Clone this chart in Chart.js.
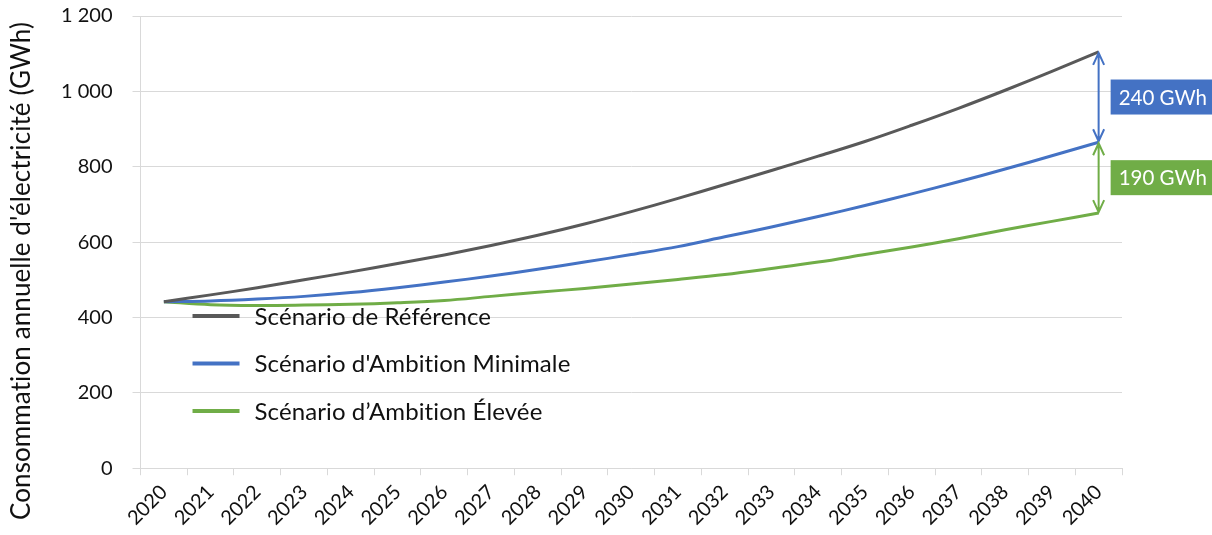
<!DOCTYPE html>
<html lang="fr">
<head>
<meta charset="utf-8">
<script src="https://cdn.jsdelivr.net/npm/chart.js@4/dist/chart.umd.min.js"></script>
<style>
  html, body { margin: 0; padding: 0; background: #fff; }
  #wrap { width: 1212px; height: 535px; position: relative; }
</style>
</head>
<body>
<div id="wrap"><canvas id="chart"></canvas></div>
<script>
// Données (GWh)
const years = ['2020', '2021', '2022', '2023', '2024', '2025', '2026', '2027', '2028', '2029', '2030',
               '2031', '2032', '2033', '2034', '2035', '2036', '2037', '2038', '2039', '2040'];
const scenarioReference = [442, 460, 479, 500, 521, 543, 566, 591, 618, 648, 681,
                           716, 753, 790, 828, 867, 910, 955, 1003, 1053, 1105];
const scenarioMinimale = [442, 444, 449, 456, 466, 479, 494, 510, 528, 547, 567,
                          588, 614, 640, 668, 697, 728, 760, 794, 829, 865];
const scenarioElevee = [442, 434, 432, 433, 435, 439, 445, 456, 467, 477, 489,
                        501, 514, 530, 547, 567, 587, 609, 633, 655, 677];
const seriesNames = ['Scénario de Référence', "Scénario d'Ambition Minimale", 'Scénario d’Ambition Élevée'];
const gapLabels = ['240 GWh', '190 GWh'];
const yTitle = "Consommation annuelle d'électricité (GWh)";

const colors = ['#595959', '#4472C4', '#70AD47'];
const textColor = '#111111';
const gridColor = '#D9D9D9';

Chart.defaults.font.family = 'Lato';

// titre de l'axe Y (centré sur toute la hauteur, comme dans Excel)
const yAxisTitle = {
    id: 'yAxisTitle',
    afterDraw(chart) {
        const ctx = chart.ctx;
        ctx.save();
        ctx.translate(22, 271);
        ctx.rotate(-Math.PI / 2);
        ctx.font = '26px Lato';
        ctx.letterSpacing = '0.1px'; // pas de ligature "ti"
        ctx.fillStyle = textColor;
        ctx.textAlign = 'center';
        ctx.textBaseline = 'middle';
        ctx.fillText(yTitle, 0, 0);
        ctx.restore();
    }
};

// legende dessinee dans la zone du graphique
const insideLegend = {
    id: 'insideLegend',
    afterDatasetsDraw(chart) {
        const ctx = chart.ctx;
        const area = chart.chartArea;
        ctx.save();
        ctx.font = '24px Lato';
        ctx.letterSpacing = '0.1px';
        ctx.textBaseline = 'middle';
        ctx.textAlign = 'left';
        chart.data.datasets.forEach((ds, i) => {
            const y = area.top + 300 + i * 47.5;
            const x = area.left + 52;
            ctx.strokeStyle = ds.borderColor;
            ctx.lineWidth = 4;
            ctx.beginPath();
            ctx.moveTo(x, y);
            ctx.lineTo(x + 47, y);
            ctx.stroke();
            ctx.fillStyle = textColor;
            ctx.fillText(ds.label, x + 62, y + 1);
        });
        ctx.restore();
    }
};

// fleches d'ecart en 2040 + etiquettes
const gapMarkers = {
    id: 'gapMarkers',
    afterDatasetsDraw(chart) {
        const ctx = chart.ctx;
        const xs = chart.scales.x, ys = chart.scales.y;
        const last = years.length - 1;
        const x = xs.getPixelForValue(last);
        const pairs = [[scenarioReference, scenarioMinimale, 1], [scenarioMinimale, scenarioElevee, 2]];
        ctx.save();
        pairs.forEach(([hi, lo, c], i) => {
            const y1 = ys.getPixelForValue(hi[last]) + 1;
            const y2 = ys.getPixelForValue(lo[last]) - 1;
            ctx.strokeStyle = colors[c];
            ctx.lineWidth = 2;
            ctx.beginPath();
            ctx.moveTo(x, y1);
            ctx.lineTo(x, y2);
            ctx.moveTo(x - 5.5, y1 + 12);
            ctx.lineTo(x, y1);
            ctx.lineTo(x + 5.5, y1 + 12);
            ctx.moveTo(x - 5.5, y2 - 12);
            ctx.lineTo(x, y2);
            ctx.lineTo(x + 5.5, y2 - 12);
            ctx.stroke();

            const mid = (y1 + y2) / 2;
            ctx.fillStyle = colors[c];
            ctx.fillRect(x + 12, mid - 17.5, chart.width - x - 12, 35);
            ctx.fillStyle = '#ffffff';
            ctx.font = '20.5px Lato';
            ctx.textAlign = 'left';
            ctx.textBaseline = 'middle';
            ctx.fillText(gapLabels[i], x + 20, mid + 1);
        });
        ctx.restore();
    }
};

const seriesData = [scenarioReference, scenarioMinimale, scenarioElevee];

const ctx = document.getElementById('chart').getContext('2d');
new Chart(ctx, {
    type: 'line',
    data: {
        labels: years,
        datasets: seriesData.map((values, i) => ({
            label: seriesNames[i],
            data: values,
            borderColor: colors[i],
            backgroundColor: colors[i],
            borderWidth: 3,
            pointRadius: 0,
            tension: 0.35,
            fill: false
        }))
    },
    options: {
        responsive: true,
        maintainAspectRatio: false,
        animation: false,
        layout: { padding: { top: 0, right: 90, bottom: 0, left: 41 } },
        plugins: {
            legend: { display: false },
            tooltip: { enabled: false }
        },
        scales: {
            x: {
                offset: true,
                grid: {
                    offset: true,
                    drawOnChartArea: false,
                    tickLength: 7,
                    color: gridColor
                },
                border: { color: gridColor },
                ticks: {
                    autoSkip: false,
                    minRotation: 45,
                    maxRotation: 45,
                    color: textColor,
                    padding: 5,
                    font: { size: 20 }
                }
            },
            y: {
                min: 0,
                max: 1200,
                // la marge du haut ne doit pas dependre du padding des ticks
                afterFit: scale => { scale.paddingTop = 16; },
                ticks: {
                    stepSize: 200,
                    color: textColor,
                    padding: 20,
                    font: { size: 20 },
                    callback: v => String(v).replace(/\B(?=(\d{3})+(?!\d))/g, ' ')
                },
                grid: { color: gridColor, tickLength: 8 },
                border: { color: gridColor }
            }
        }
    },
    plugins: [insideLegend, gapMarkers, yAxisTitle]
});
</script>
</body>
</html>
